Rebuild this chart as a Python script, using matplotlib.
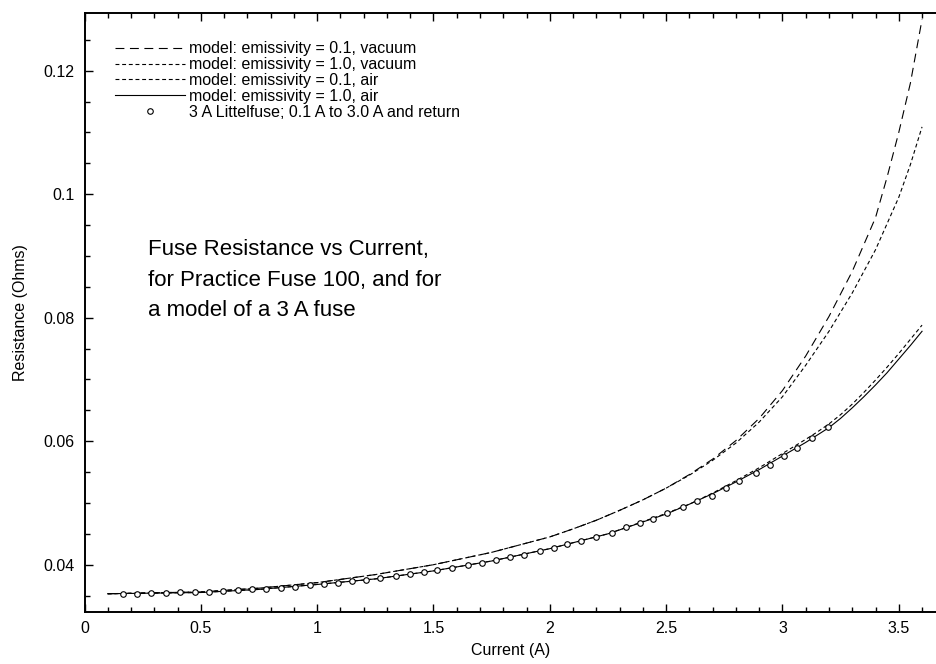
import matplotlib
matplotlib.use('Agg')
import matplotlib.pyplot as plt
from matplotlib.ticker import MultipleLocator

plt.rcParams['font.family'] = ['Liberation Sans', 'DejaVu Sans']

# model curves (current in A, resistance in Ohms)
cur_e01_vac = [0.1, 0.5, 0.75, 1.0, 1.25, 1.5, 1.75, 2.0, 2.1, 2.2, 2.3, 2.4, 2.5, 2.6,
               2.7, 2.8, 2.9, 3.0, 3.1, 3.2, 3.3, 3.4, 3.45, 3.5, 3.55, 3.6]
res_e01_vac = [0.0353, 0.0356, 0.0362, 0.0371, 0.0384, 0.0400, 0.0420, 0.0445, 0.0458,
               0.0472, 0.0488, 0.0505, 0.0524, 0.0546, 0.0571, 0.0601, 0.0637, 0.0682,
               0.0738, 0.0802, 0.0875, 0.0962, 0.1028, 0.1100, 0.1180, 0.1283]

cur_e10_vac = [0.1, 0.5, 0.75, 1.0, 1.25, 1.5, 1.75, 2.0, 2.1, 2.2, 2.3, 2.4, 2.5, 2.6,
               2.7, 2.8, 2.9, 3.0, 3.1, 3.2, 3.3, 3.4, 3.5, 3.55, 3.6]
res_e10_vac = [0.0353, 0.0356, 0.0362, 0.0371, 0.0384, 0.0400, 0.0420, 0.0445, 0.0458,
               0.0472, 0.0488, 0.0505, 0.0524, 0.0545, 0.0569, 0.0597, 0.0631, 0.0672,
               0.0723, 0.0778, 0.0840, 0.0910, 0.0995, 0.1048, 0.1109]

cur_e01_air = [0.1, 0.3, 0.5, 0.75, 1.0, 1.25, 1.5, 1.75, 2.0, 2.25, 2.5, 2.6, 2.7, 2.8,
               2.9, 3.0, 3.1, 3.15, 3.2, 3.25, 3.3, 3.35, 3.4, 3.45, 3.5, 3.55, 3.6]
res_e01_air = [0.0353, 0.0354, 0.0355, 0.0360, 0.0368, 0.0377, 0.0390, 0.0406, 0.0426,
               0.0450, 0.0483, 0.0498, 0.0516, 0.0536, 0.0557, 0.0580, 0.0603, 0.0615,
               0.0628, 0.0643, 0.0660, 0.0679, 0.0699, 0.0720, 0.0742, 0.0765, 0.0788]

cur_e10_air = [0.1, 0.3, 0.5, 0.75, 1.0, 1.25, 1.5, 1.75, 2.0, 2.25, 2.5, 2.6, 2.7, 2.8,
               2.9, 3.0, 3.1, 3.15, 3.2, 3.25, 3.3, 3.35, 3.4, 3.45, 3.5, 3.55, 3.6]
res_e10_air = [0.0353, 0.0354, 0.0355, 0.0360, 0.0368, 0.0377, 0.0390, 0.0406, 0.0426,
               0.0450, 0.0482, 0.0498, 0.0515, 0.0534, 0.0554, 0.0576, 0.0598, 0.0610,
               0.0622, 0.0637, 0.0654, 0.0672, 0.0691, 0.0711, 0.0733, 0.0755, 0.0778]

# measured, 3 A Littelfuse
meas_cur = [0.165, 0.225, 0.287, 0.350, 0.410, 0.473, 0.535, 0.597, 0.658, 0.720,
            0.781, 0.843, 0.905, 0.968, 1.028, 1.090, 1.150, 1.209, 1.269, 1.338,
            1.398, 1.458, 1.517, 1.578, 1.647, 1.708, 1.768, 1.828, 1.888, 1.957,
            2.016, 2.076, 2.136, 2.197, 2.268, 2.326, 2.386, 2.443, 2.505, 2.572,
            2.634, 2.697, 2.756, 2.814, 2.885, 2.946, 3.005, 3.064, 3.127, 3.194]
meas_res = [0.0353, 0.0353, 0.0354, 0.0354, 0.0355, 0.0355, 0.0356, 0.0357, 0.0359, 0.0360,
            0.0361, 0.0363, 0.0364, 0.0367, 0.0369, 0.0371, 0.0373, 0.0375, 0.0378, 0.0382,
            0.0385, 0.0388, 0.0391, 0.0395, 0.0399, 0.0403, 0.0407, 0.0412, 0.0416, 0.0422,
            0.0427, 0.0433, 0.0439, 0.0445, 0.0452, 0.0461, 0.0467, 0.0474, 0.0483, 0.0493,
            0.0503, 0.0512, 0.0524, 0.0536, 0.0548, 0.0562, 0.0576, 0.0589, 0.0605, 0.0623]

fig = plt.figure(figsize=(9.36, 6.64), dpi=100)
ax = fig.add_axes([84.5/936, 1-611.7/664, 1-84.5/936, (611.7-12.7)/664])

lw = 0.8
ax.plot(cur_e01_vac, res_e01_vac, color='k', lw=lw, dashes=(8, 5),
        label='model: emissivity = 0.1, vacuum')
ax.plot(cur_e10_vac, res_e10_vac, color='k', lw=lw, dashes=(3.5, 2.5),
        label='model: emissivity = 1.0, vacuum')
ax.plot(cur_e01_air, res_e01_air, color='k', lw=lw, dashes=(3.5, 2.5),
        label='model: emissivity = 0.1, air')
ax.plot(cur_e10_air, res_e10_air, color='k', lw=lw, label='model: emissivity = 1.0, air')
ax.plot(meas_cur, meas_res, ls='none', marker='o', ms=4, mfc='white', mec='k', mew=0.8,
        label='3 A Littelfuse; 0.1 A to 3.0 A and return')

ax.set_xlim(0, 3.66)
ax.set_ylim(0.03239, 0.12939)
ax.xaxis.set_minor_locator(MultipleLocator(0.1))
ax.yaxis.set_minor_locator(MultipleLocator(0.005))
ax.set_xticks([0, 0.5, 1, 1.5, 2, 2.5, 3, 3.5])
ax.set_xticklabels(['0', '0.5', '1', '1.5', '2', '2.5', '3', '3.5'])
ax.set_yticks([0.04, 0.06, 0.08, 0.1, 0.12])
ax.set_yticklabels(['0.04', '0.06', '0.08', '0.1', '0.12'])
ax.tick_params(which='both', direction='in', top=True, right=False, labelsize=11.5,
               pad=7, width=1)
ax.tick_params(which='major', length=6)
ax.tick_params(which='minor', length=3.5)
ax.spines['right'].set_visible(False)
for s in ['left', 'bottom', 'top']:
    ax.spines[s].set_linewidth(1.4)

ax.set_xlabel('Current (A)', fontsize=11.5, labelpad=5)
ax.set_ylabel('Resistance (Ohms)', fontsize=11.5, labelpad=11)

ax.legend(loc='upper left', bbox_to_anchor=(0.0358, 0.952), frameon=False, fontsize=11.5,
          handlelength=4.4, handletextpad=0.25, labelspacing=0.05, borderaxespad=0,
          borderpad=0)

fig.text(148/936, 1-239/664, 'Fuse Resistance vs Current,\nfor Practice Fuse 100, and for\na model of a 3 A fuse',
         fontsize=16, va='top', ha='left', linespacing=1.6)

fig.savefig('out.png', dpi=100)
